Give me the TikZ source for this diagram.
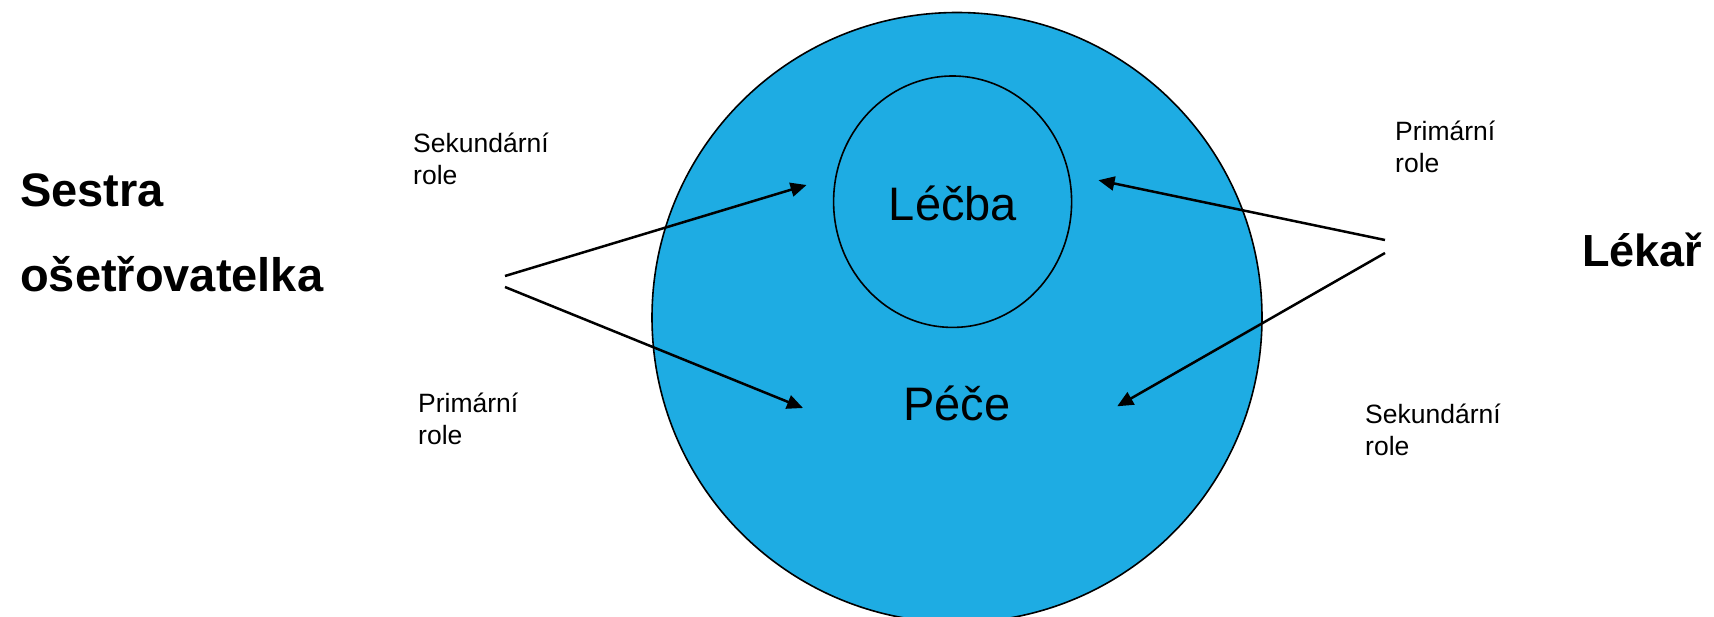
\documentclass[tikz,border=0pt]{standalone}
\usepackage{fontspec}
\setmainfont{Liberation Sans}
\usepackage{tikz}
\usetikzlibrary{positioning,arrows.meta,shapes.geometric}
\definecolor{rcfill}{HTML}{1EACE3}
\definecolor{rcline}{HTML}{000000}

\begin{document}
\begin{tikzpicture}[
  x=1pt, y=-1pt,
  field/.style={draw=rcline, line width=1.6pt, inner sep=0pt},
  area/.style={font=\fontsize{47}{56}\selectfont, anchor=base, inner sep=0pt},
  actor/.style={font=\fontsize{47}{85}\selectfont\bfseries, align=left,
                anchor=base west, inner sep=0pt},
  role/.style={font=\fontsize{26.5}{32}\selectfont, align=left,
               anchor=base west, inner sep=0pt},
  arr/.style={-{Triangle[length=16pt,width=14pt]}, line width=2.5pt, draw=rcline},
]
  \useasboundingbox (0,0) rectangle (1714,616);

  % ---- the two fields -------------------------------------------------------
  \node[field, circle, fill=rcfill, minimum size=610pt] (outer) at (957,317.5) {};
  \node[field, ellipse, minimum width=238pt, minimum height=251.4pt] (inner) at (952.6,201.7) {};
  \node[area] (treat) at (953,220) {Léčba};
  \node[area] (care) at (957,420) {Péče};

  % ---- who does what (base = last line) ------------------------------------
  \node[actor] (nurse) at (20,291) {Sestra\\ošetřovatelka};
  \node[actor, font=\fontsize{45}{54}\selectfont\bfseries] (doctor) at (1582,266) {Lékař};

  \node[role] (nsec) at (413,184) {Sekundární\\role};
  \node[role] (nprim) at (418,444) {Primární\\role};
  \node[role] (dprim) at (1395,172) {Primární\\role};
  \node[role] (dsec) at (1365,455) {Sekundární\\role};

  % ---- arrows -------------------------------------------------------------
  \coordinate (n1) at (505,276);
  \coordinate (n2) at (505,287);
  \coordinate (d1) at (1385,240);
  \coordinate (d2) at (1385,253);
  \coordinate (nt) at (806.6,185);
  \coordinate (nc) at (803,408);
  \coordinate (dt) at (1098.5,180.2);
  \coordinate (dc) at (1117.2,406.3);

  \draw[arr] (n1) -- (nt);
  \draw[arr] (n2) -- (nc);
  \draw[arr] (d1) -- (dt);
  \draw[arr] (d2) -- (dc);
\end{tikzpicture}
\end{document}
